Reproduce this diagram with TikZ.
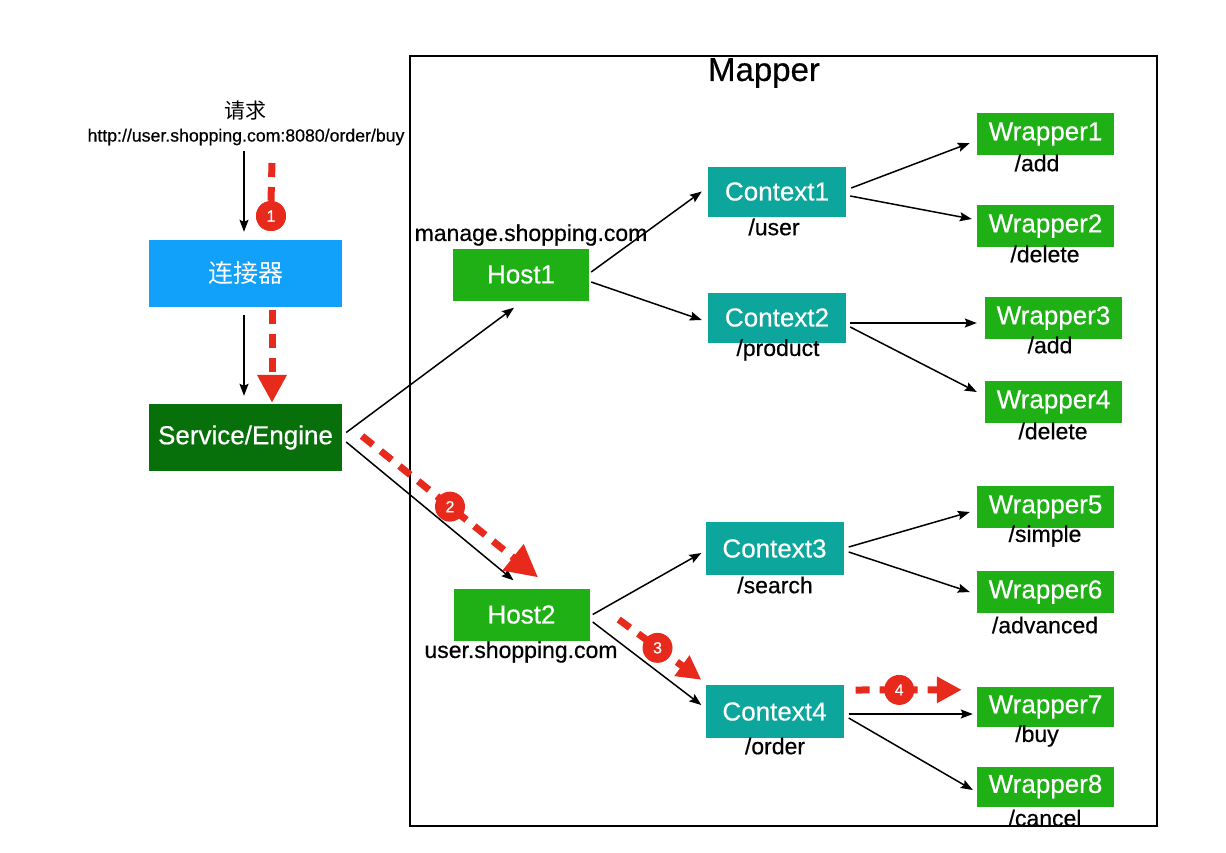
\documentclass[tikz,border=0pt]{standalone}
\usepackage{fontspec}
\setmainfont{Liberation Sans}[UprightFeatures={FakeBold=0.5}]
\newfontfamily\cjk{Noto Sans CJK SC}
\usetikzlibrary{arrows.meta}
\definecolor{connblue}{RGB}{17,160,250}
\definecolor{svcgreen}{RGB}{8,112,10}
\definecolor{hgreen}{RGB}{30,176,20}
\definecolor{cteal}{RGB}{12,166,156}
\definecolor{flowred}{RGB}{232,42,28}
\begin{document}
\begin{tikzpicture}[x=1pt,y=-1pt,
  box/.style={inner sep=0pt,text=white,font=\fontsize{26}{30}\selectfont},
  hostbox/.style={box,fill=hgreen,minimum width=136pt,minimum height=52pt},
  ctxbox/.style={box,fill=cteal,minimum width=138pt,minimum height=50pt},
  wrapbox/.style={box,fill=hgreen,minimum width=137pt,minimum height=42pt},
  lab/.style={inner sep=0pt,font=\fontsize{23}{26}\selectfont},
  arr/.style={-{Stealth[length=12pt,width=9pt,inset=2pt]},line width=1.5pt},
  reddash/.style={draw=flowred,line width=7pt,dash pattern=on 14pt off 10pt},
  redtip/.style={-{Triangle[length=#1,width=#1]}},
  num/.style={circle,fill=flowred,text=white,minimum size=30pt,inner sep=0pt,font=\fontsize{16}{16}\selectfont}
]
\useasboundingbox (0,0) rectangle (1226,852);

% Mapper frame
\node[draw,line width=2pt,minimum width=747pt,minimum height=770pt,inner sep=0pt] (mapper) at (783.5,441) {};
\node[inner sep=0pt,font=\fontsize{33}{36}\selectfont] (mtitle) at (764,73) {Mapper};

% request
\node[inner sep=0pt,font=\cjk\fontsize{21}{24}\selectfont] (req) at (245,111) {请求};
\node[inner sep=0pt,font=\fontsize{17.7}{20}\selectfont] (url) at (246,137) {http://user.shopping.com:8080/order/buy};

% left boxes
\node[box,fill=connblue,minimum width=193pt,minimum height=67pt,font=\cjk\fontsize{25}{28}\selectfont] (conn) at (245.5,273.5) {连接器};
\node[box,fill=svcgreen,minimum width=193pt,minimum height=67pt] (svc) at (245.5,437.5) {Service/Engine};

% hosts
\node[hostbox] (host1) at (521,274.5) {Host1};
\node[lab] (h1lab) at (531,235) {manage.shopping.com};
\node[hostbox] (host2) at (521.5,614.5) {Host2};
\node[lab] (h2lab) at (521,652) {user.shopping.com};

% contexts
\node[ctxbox] (ctx1) at (777,191.5) {Context1};
\node[lab] (c1lab) at (774,227) {/user};
\node[ctxbox] (ctx2) at (777,317.5) {Context2};
\node[lab] (c2lab) at (778,350) {/product};
\node[ctxbox,minimum height=53pt] (ctx3) at (774.5,548.5) {Context3};
\node[lab] (c3lab) at (775,585) {/search};
\node[ctxbox,minimum height=53pt] (ctx4) at (774.5,711.5) {Context4};
\node[lab] (c4lab) at (775,746) {/order};

% wrappers
\node[wrapbox] (w1) at (1045.5,134) {Wrapper1};
\node[lab] (w1lab) at (1037,163) {/add};
\node[wrapbox] (w2) at (1045.5,226) {Wrapper2};
\node[lab] (w2lab) at (1045,254) {/delete};
\node[wrapbox] (w3) at (1053.5,318) {Wrapper3};
\node[lab] (w3lab) at (1050,345) {/add};
\node[wrapbox] (w4) at (1053.5,402) {Wrapper4};
\node[lab] (w4lab) at (1053,431) {/delete};
\node[wrapbox] (w5) at (1045.5,507) {Wrapper5};
\node[lab] (w5lab) at (1045,536) {/simple};
\node[wrapbox] (w6) at (1045.5,592) {Wrapper6};
\node[lab] (w6lab) at (1045,625) {/advanced};
\node[wrapbox,minimum height=40pt] (w7) at (1045.5,707) {Wrapper7};
\node[lab] (w7lab) at (1037,736) {/buy};
\node[wrapbox,minimum height=40pt] (w8) at (1045.5,786.5) {Wrapper8};
\node[lab] (w8lab) at (1045,818) {/cancel};

% black connectors
\draw[arr] ([xshift=-2pt,yshift=-6pt]url.south) -- ([xshift=-1.5pt,yshift=8pt]conn.north);
\draw[arr] ([xshift=-1.5pt,yshift=-8pt]conn.south) -- ([xshift=-1.5pt,yshift=8pt]svc.north);
\draw[arr] ([xshift=4pt,yshift=5pt]svc.east) -- ([xshift=-7pt,yshift=-7pt]host1.south);
\draw[arr] ([xshift=4pt,yshift=-4.5pt]svc.east) -- ([xshift=-8pt,yshift=8pt]host2.north);
\draw[arr] ([xshift=2pt,yshift=2.5pt]host1.east) -- ([xshift=-6pt]ctx1.west);
\draw[arr] ([xshift=2pt,yshift=-7.5pt]host1.east) -- ([xshift=-6pt,yshift=-2.5pt]ctx2.west);
\draw[arr] ([xshift=3pt]host2.east) -- ([xshift=-4pt,yshift=-4.5pt]ctx3.west);
\draw[arr] ([xshift=3pt,yshift=-7.5pt]host2.east) -- ([xshift=-4pt,yshift=6.5pt]ctx4.west);
\draw[arr] ([xshift=5pt,yshift=3.5pt]ctx1.east) -- ([xshift=-7pt,yshift=-9pt]w1.west);
\draw[arr] ([xshift=4pt,yshift=-4.5pt]ctx1.east) -- ([xshift=-5pt,yshift=7pt]w2.west);
\draw[arr] ([xshift=4pt,yshift=-5.5pt]ctx2.east) -- ([xshift=-8pt,yshift=-5pt]w3.west);
\draw[arr] ([xshift=4pt,yshift=-9.5pt]ctx2.east) -- ([xshift=-8pt,yshift=10pt]w4.west);
\draw[arr] ([xshift=5pt,yshift=1.5pt]ctx3.east) -- ([xshift=-7pt,yshift=-5pt]w5.west);
\draw[arr] ([xshift=5pt,yshift=-3.5pt]ctx3.east) -- ([xshift=-7pt]w6.west);
\draw[arr] ([xshift=5pt,yshift=-2.5pt]ctx4.east) -- ([xshift=-4pt,yshift=-7pt]w7.west);
\draw[arr] ([xshift=5pt,yshift=-6.5pt]ctx4.east) -- ([xshift=-4pt,yshift=-3.5pt]w8.west);

% red flow
\coordinate (r1s) at (272,163);
\node[num] (n1) at (271,216) {1};
\draw[reddash] (r1s) -- (n1.north);
\node[num] at (n1) {1};
\draw[reddash,redtip=28pt] ([xshift=26.5pt,yshift=-3pt]conn.south) -- ([xshift=26.5pt,yshift=1pt]svc.north);

\coordinate (r2s) at (362,436);
\draw[reddash,redtip=32pt] (r2s) -- ([xshift=16.5pt,yshift=11pt]host2.north) node[num,pos=.5] (n2) {2};

\draw[reddash,redtip=24pt] ([xshift=29pt,yshift=-5pt]host2.east) -- ([xshift=-4pt,yshift=5pt]ctx4.north west) node[num,pos=.47] (n3) {3};

\draw[reddash,redtip=25pt] ([xshift=12pt,yshift=21.5pt]ctx4.east) -- ([xshift=-15pt,yshift=-3pt]w7.north west) node[num,pos=.41] (n4) {4};
\end{tikzpicture}
\end{document}
